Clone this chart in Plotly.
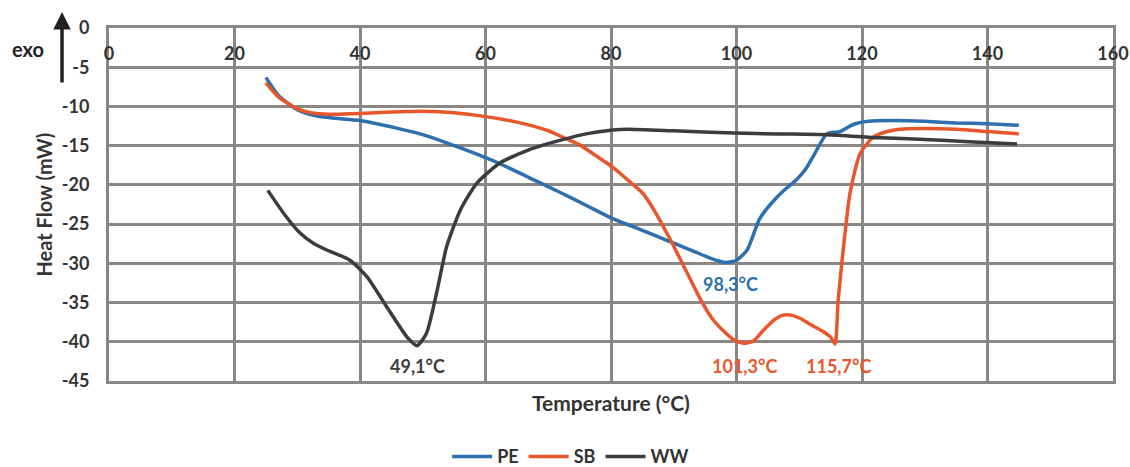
import plotly.graph_objects as go

# ---- data ----
pe_t = [25, 27, 30, 33, 36, 40, 46, 50, 54, 58, 62, 67, 72, 76, 80, 85, 89, 93, 96, 98.3,
        100, 101.7, 103.7, 106.4, 108, 109.6, 111, 112.2, 114.4, 116.5, 118.6, 121, 125, 130,
        135, 140, 145]
pe_h = [-6.3, -8.6, -10.4, -11.2, -11.5, -11.8, -12.8, -13.6, -14.7, -15.9, -17.2, -19.1,
        -21.0, -22.6, -24.2, -25.8, -27.1, -28.4, -29.4, -29.9, -29.6, -28.3, -24.3, -21.6,
        -20.4, -19.3, -18.0, -16.4, -13.5, -13.2, -12.3, -11.9, -11.8, -11.9, -12.1, -12.2, -12.4]

sb_t = [25, 27, 30, 33, 36, 40, 45, 50, 55, 60, 65, 70, 72, 75, 78, 80.2, 83, 85.1, 87, 89.4,
        92, 94.2, 96, 97.9, 99.5, 101.2, 102.7, 104.2, 106, 107.4, 108.7, 110.1, 112, 113.8,
        115, 115.7, 116.2, 117, 118.1, 119.7, 121.8, 124, 126, 130, 135, 140, 145]
sb_h = [-7.0, -8.8, -10.3, -10.9, -11.0, -10.9, -10.7, -10.6, -10.8, -11.3, -12.0, -13.1,
        -13.8, -14.9, -16.5, -17.7, -19.6, -21.1, -23.4, -26.9, -31.0, -34.5, -36.9, -38.6,
        -39.7, -40.2, -39.9, -38.6, -37.2, -36.6, -36.6, -37.0, -37.9, -38.7, -39.4, -40.3,
        -34.7, -28.3, -21.0, -16.0, -13.9, -13.2, -12.9, -12.8, -12.9, -13.2, -13.5]

ww_t = [25.3, 28, 30.4, 32.5, 34.7, 38.4, 41.1, 44.3, 47.5, 49.1, 50.6, 52.2, 53.8, 56, 58.6,
        62.3, 67, 72, 76, 80.3, 82.5, 90, 99.5, 107, 114.4, 122.9, 130, 137, 144.7]
ww_h = [-20.7, -23.8, -26.1, -27.4, -28.3, -29.6, -31.7, -35.6, -39.4, -40.5, -38.9, -33.8,
        -27.9, -23.2, -19.8, -17.2, -15.5, -14.3, -13.5, -13.0, -12.9, -13.1, -13.4, -13.5,
        -13.6, -14.0, -14.2, -14.5, -14.8]

peak_labels = ["98,3°C", "101,3°C", "115,7°C", "49,1°C"]
peak_x = [99.0, 101.2, 116.2, 49.1]
peak_y = [-32.6, -43.1, -43.1, -43.1]

x_ticks = [0, 20, 40, 60, 80, 100, 120, 140, 160]
y_ticks = [0, -5, -10, -15, -20, -25, -30, -35, -40, -45]
y_ticktext = ["0", "-5", "-10", "-15", "-20", "-25", "-30", "-35", "-40", "-45"]

BLUE = "#2e6fae"
ORANGE = "#e8562b"
DARK = "#3c3c3c"
GRID = "#8a8683"
TXT = "#333333"
FONT = "Lato"

fig = go.Figure()
for name, xs, ys, col in [("PE", pe_t, pe_h, BLUE), ("SB", sb_t, sb_h, ORANGE), ("WW", ww_t, ww_h, DARK)]:
    fig.add_trace(go.Scatter(x=xs, y=ys, name=name, mode="lines",
                             line=dict(color=col, width=3.5, shape="spline", smoothing=0.6)))

peak_cols = [BLUE, ORANGE, ORANGE, DARK]
for txt, px, py, c in zip(peak_labels, peak_x, peak_y, peak_cols):
    fig.add_annotation(x=px, y=py, xref="x", yref="y", text=txt, showarrow=False,
                       font=dict(family=FONT, size=18, color=c, weight="bold"))

# axis titles
fig.add_annotation(x=0.5, y=-0.06, xref="paper", yref="paper", yanchor="middle",
                   text="Temperature (°C)", showarrow=False,
                   font=dict(family=FONT, size=21, color=TXT, weight="bold"))
fig.add_annotation(x=-0.0657, y=0.5, xref="paper", yref="paper", textangle=-90,
                   xanchor="center", yanchor="middle",
                   text="Heat Flow (mW)", showarrow=False,
                   font=dict(family=FONT, size=20, color=TXT, weight="bold"))
# exo arrow
fig.add_annotation(x=-0.0468, y=1.045, xref="paper", yref="paper", ax=0, ay=72,
                   showarrow=True, arrowhead=2, arrowsize=1, arrowwidth=3.5,
                   arrowcolor="#222", text="")
fig.add_annotation(x=-0.081, y=0.94, xref="paper", yref="paper", text="exo", showarrow=False,
                   xanchor="center", yanchor="middle",
                   font=dict(family=FONT, size=20, color="#222", weight="bold"))

fig.update_xaxes(range=[0, 160], tickvals=x_ticks, side="top", ticklabelposition="inside",
                 ticklabelstandoff=20, ticklabeloverflow="allow", automargin=False,
                 showgrid=True, gridcolor=GRID, gridwidth=3, zeroline=False,
                 showline=True, linecolor=GRID, linewidth=3, mirror=True,
                 tickfont=dict(family=FONT, size=18, color=TXT, weight="bold"))
fig.update_yaxes(range=[-45, 0], tickvals=y_ticks, ticktext=y_ticktext, automargin=False,
                 showgrid=True, gridcolor=GRID, gridwidth=3, ticklabeloverflow="allow",
                 zeroline=False, showline=True, linecolor=GRID, linewidth=3, mirror=True,
                 ticklabelstandoff=13,
                 tickfont=dict(family=FONT, size=18, color=TXT, weight="bold"))

fig.update_layout(width=1130, height=467, margin=dict(l=109, r=17, t=28, b=86),
                  paper_bgcolor="white", plot_bgcolor="white",
                  showlegend=True,
                  legend=dict(orientation="h", x=0.505, xref="container", xanchor="center",
                              y=0.022, yref="container", yanchor="middle",
                              font=dict(family=FONT, size=18, color=TXT, weight="bold"),
                              itemwidth=40, tracegroupgap=0),
                  )

fig.write_html("out.html")
